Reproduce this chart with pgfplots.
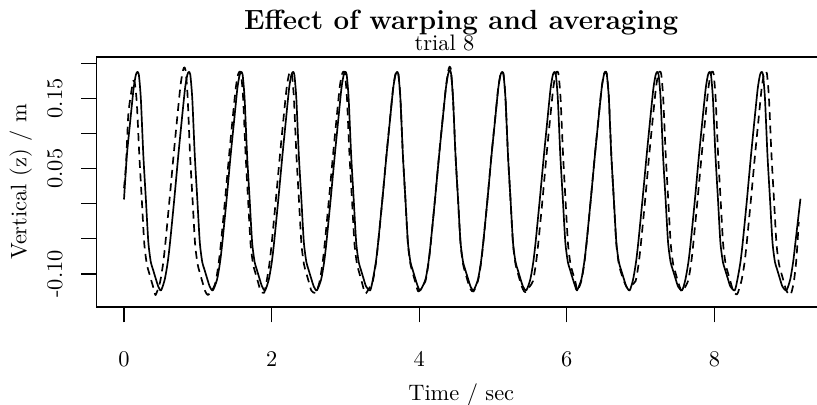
\documentclass[border=0pt]{standalone}
\usepackage{pgfplots}
\pgfplotsset{compat=1.18}
\begin{document}
\begin{tikzpicture}
\begin{axis}[
    name=ax, at={(0,0)}, anchor=south west,
    scale only axis, width=325.67pt, height=111.74pt,
    xmin=-0.3726, xmax=9.512, ymin=-0.1475, ymax=0.2089,
    axis line style={line width=0.75pt},
    tick style={line width=0.6pt, black},
    tick align=outside, major tick length=6.7pt,
    xtick pos=bottom, ytick pos=left,
    xtick={0,2,4,6,8},
    ytick={-0.10,-0.05,0,0.05,0.10,0.15,0.20},
    yticklabels={-0.10,{},{},0.05,{},0.15,{}},
    xticklabel style={anchor=base, inner sep=0pt},
    xticklabel shift=19.82pt,
    yticklabel style={rotate=90, anchor=base, inner sep=0pt},
    yticklabel shift=8.61pt,
    xlabel={Time / sec},
    xlabel style={at={(axis description cs:0.5,0)}, anchor=base, inner sep=0pt, yshift=-41.83pt},
    ylabel={Vertical (z) / m},
    ylabel style={at={(axis description cs:-0.09596,0.5)}, anchor=base, inner sep=0pt},
]
% solid: trial 8 as recorded
\addplot[black, line width=0.75pt, mark=none, line join=round, smooth, tension=0.4] coordinates {
(0.000,0.006) (0.039,0.069) (0.085,0.118) (0.130,0.164) (0.160,0.183) (0.180,0.1875)
(0.201,0.184) (0.228,0.150) (0.262,0.069) (0.296,0.007) (0.330,-0.055) (0.363,-0.083) (0.391,-0.093) (0.431,-0.107) (0.465,-0.118) (0.502,-0.1235)
(0.552,-0.108) (0.593,-0.083) (0.624,-0.055) (0.681,0.006) (0.736,0.069) (0.782,0.118) (0.827,0.164) (0.857,0.183) (0.877,0.1875)
(0.898,0.184) (0.925,0.150) (0.959,0.069) (0.993,0.007) (1.027,-0.055) (1.060,-0.083) (1.088,-0.093) (1.128,-0.107) (1.162,-0.118) (1.203,-0.1235)
(1.261,-0.108) (1.302,-0.083) (1.333,-0.055) (1.390,0.006) (1.445,0.069) (1.492,0.118) (1.536,0.164) (1.566,0.183) (1.586,0.1875)
(1.607,0.184) (1.634,0.150) (1.668,0.069) (1.702,0.007) (1.736,-0.055) (1.770,-0.083) (1.797,-0.093) (1.837,-0.107) (1.871,-0.118) (1.912,-0.1235)
(1.962,-0.108) (2.003,-0.083) (2.034,-0.055) (2.091,0.006) (2.147,0.069) (2.193,0.118) (2.237,0.164) (2.267,0.183) (2.288,0.1875)
(2.308,0.184) (2.335,0.150) (2.369,0.069) (2.403,0.007) (2.437,-0.055) (2.471,-0.083) (2.498,-0.093) (2.538,-0.107) (2.572,-0.118) (2.613,-0.1235)
(2.671,-0.108) (2.712,-0.083) (2.743,-0.055) (2.800,0.006) (2.856,0.069) (2.902,0.118) (2.946,0.164) (2.976,0.183) (2.997,0.1875)
(3.017,0.184) (3.044,0.150) (3.078,0.069) (3.112,0.007) (3.146,-0.055) (3.180,-0.083) (3.207,-0.093) (3.247,-0.107) (3.281,-0.118) (3.336,-0.1235)
(3.372,-0.108) (3.413,-0.083) (3.444,-0.055) (3.501,0.006) (3.557,0.069) (3.603,0.118) (3.647,0.164) (3.677,0.183) (3.698,0.1875)
(3.718,0.184) (3.745,0.150) (3.779,0.069) (3.813,0.007) (3.847,-0.055) (3.881,-0.083) (3.908,-0.093) (3.948,-0.107) (3.982,-0.118) (4.014,-0.1235)
(4.085,-0.108) (4.126,-0.083) (4.157,-0.055) (4.214,0.006) (4.270,0.069) (4.316,0.118) (4.361,0.164) (4.391,0.184) (4.411,0.190)
(4.431,0.186) (4.458,0.150) (4.492,0.069) (4.526,0.007) (4.560,-0.055) (4.594,-0.083) (4.621,-0.093) (4.662,-0.107) (4.696,-0.118) (4.736,-0.1235)
(4.796,-0.108) (4.837,-0.083) (4.868,-0.055) (4.925,0.006) (4.980,0.069) (5.027,0.118) (5.071,0.164) (5.101,0.183) (5.121,0.1875)
(5.142,0.184) (5.169,0.150) (5.203,0.069) (5.237,0.007) (5.271,-0.055) (5.305,-0.083) (5.332,-0.093) (5.372,-0.107) (5.406,-0.118) (5.451,-0.1235)
(5.505,-0.108) (5.546,-0.083) (5.577,-0.055) (5.634,0.006) (5.690,0.069) (5.736,0.118) (5.780,0.164) (5.810,0.183) (5.831,0.1875)
(5.851,0.184) (5.878,0.150) (5.912,0.069) (5.946,0.007) (5.980,-0.055) (6.014,-0.083) (6.041,-0.093) (6.081,-0.107) (6.115,-0.118) (6.138,-0.1235)
(6.197,-0.108) (6.237,-0.083) (6.268,-0.055) (6.325,0.006) (6.381,0.069) (6.427,0.118) (6.472,0.164) (6.502,0.183) (6.522,0.1875)
(6.542,0.184) (6.570,0.150) (6.603,0.069) (6.637,0.007) (6.671,-0.055) (6.705,-0.083) (6.732,-0.093) (6.773,-0.107) (6.807,-0.118) (6.852,-0.1235)
(6.898,-0.108) (6.938,-0.083) (6.969,-0.055) (7.026,0.006) (7.082,0.069) (7.128,0.118) (7.173,0.164) (7.203,0.183) (7.223,0.1875)
(7.243,0.184) (7.271,0.150) (7.304,0.069) (7.338,0.007) (7.372,-0.055) (7.406,-0.083) (7.433,-0.093) (7.474,-0.107) (7.508,-0.118) (7.562,-0.1235)
(7.607,-0.108) (7.648,-0.083) (7.679,-0.055) (7.736,0.006) (7.791,0.069) (7.837,0.118) (7.882,0.164) (7.912,0.183) (7.932,0.1875)
(7.953,0.184) (7.980,0.150) (8.014,0.069) (8.048,0.007) (8.081,-0.055) (8.115,-0.083) (8.142,-0.093) (8.183,-0.107) (8.217,-0.118) (8.275,-0.1235)
(8.312,-0.108) (8.353,-0.083) (8.384,-0.055) (8.441,0.006) (8.496,0.069) (8.542,0.118) (8.587,0.164) (8.617,0.183) (8.637,0.1875)
(8.658,0.184) (8.685,0.150) (8.719,0.069) (8.753,0.007) (8.787,-0.055) (8.820,-0.083) (8.848,-0.093) (8.888,-0.107) (8.922,-0.118) (8.976,-0.1235)
(9.027,-0.108) (9.067,-0.083) (9.098,-0.055) (9.166,0.007)
};
% dashed: warped and averaged
\addplot[black, line width=0.75pt, mark=none, line join=round, smooth, tension=0.4, dash pattern=on 3.5pt off 2.5pt] coordinates {
(0.000,0.022) (0.027,0.055) (0.058,0.126) (0.091,0.154) (0.118,0.171) (0.126,0.175)
(0.146,0.172) (0.174,0.143) (0.208,0.068) (0.241,0.006) (0.275,-0.057) (0.309,-0.086) (0.336,-0.097) (0.377,-0.112) (0.411,-0.124) (0.430,-0.130)
(0.488,-0.112) (0.529,-0.086) (0.560,-0.057) (0.617,0.006) (0.673,0.070) (0.719,0.120) (0.763,0.166) (0.793,0.187) (0.814,0.194)
(0.834,0.190) (0.861,0.155) (0.895,0.070) (0.929,0.006) (0.963,-0.057) (0.997,-0.086) (1.024,-0.097) (1.064,-0.112) (1.098,-0.124) (1.135,-0.130)
(1.190,-0.124) (1.241,-0.112) (1.281,-0.086) (1.313,-0.057) (1.370,0.006) (1.425,0.070) (1.471,0.120) (1.516,0.166) (1.546,0.184) (1.566,0.188)
(1.586,0.185) (1.614,0.151) (1.648,0.070) (1.681,0.006) (1.715,-0.057) (1.749,-0.086) (1.776,-0.097) (1.817,-0.112) (1.851,-0.124) (1.898,-0.127)
(1.930,-0.112) (1.970,-0.086) (2.001,-0.057) (2.058,0.006) (2.114,0.070) (2.160,0.120) (2.205,0.166) (2.235,0.184) (2.255,0.188)
(2.275,0.185) (2.302,0.151) (2.336,0.070) (2.370,0.006) (2.404,-0.057) (2.438,-0.086) (2.465,-0.097) (2.506,-0.112) (2.540,-0.124) (2.597,-0.127)
(2.648,-0.112) (2.689,-0.086) (2.720,-0.057) (2.777,0.006) (2.833,0.070) (2.879,0.120) (2.923,0.166) (2.953,0.184) (2.974,0.188)
(2.994,0.185) (3.021,0.151) (3.055,0.070) (3.089,0.006) (3.123,-0.057) (3.157,-0.086) (3.184,-0.097) (3.224,-0.112) (3.268,-0.128)
(3.318,-0.121) (3.372,-0.110) (3.413,-0.085) (3.444,-0.056) (3.501,0.006) (3.557,0.070) (3.603,0.119) (3.647,0.165) (3.677,0.184) (3.698,0.188)
(3.718,0.185) (3.745,0.151) (3.779,0.070) (3.813,0.006) (3.847,-0.057) (3.881,-0.086) (3.908,-0.097) (3.948,-0.112) (3.986,-0.125)
(4.036,-0.119) (4.085,-0.110) (4.126,-0.085) (4.157,-0.056) (4.214,0.006) (4.270,0.070) (4.316,0.119) (4.361,0.165) (4.391,0.188) (4.411,0.195)
(4.431,0.190) (4.458,0.151) (4.492,0.070) (4.526,0.006) (4.560,-0.057) (4.594,-0.086) (4.621,-0.097) (4.662,-0.112) (4.696,-0.122) (4.736,-0.125)
(4.796,-0.110) (4.837,-0.085) (4.868,-0.056) (4.925,0.006) (4.980,0.070) (5.027,0.119) (5.071,0.165) (5.101,0.184) (5.121,0.188)
(5.142,0.185) (5.169,0.151) (5.203,0.070) (5.237,0.006) (5.271,-0.057) (5.305,-0.086) (5.332,-0.097) (5.372,-0.112) (5.406,-0.122) (5.437,-0.126)
(5.490,-0.119) (5.542,-0.110) (5.582,-0.085) (5.614,-0.056) (5.671,0.006) (5.726,0.070) (5.772,0.119) (5.817,0.165) (5.847,0.184) (5.867,0.188)
(5.887,0.185) (5.915,0.151) (5.949,0.070) (5.982,0.006) (6.016,-0.057) (6.050,-0.086) (6.077,-0.097) (6.118,-0.112) (6.142,-0.124)
(6.197,-0.110) (6.237,-0.085) (6.268,-0.056) (6.325,0.006) (6.381,0.070) (6.427,0.119) (6.472,0.165) (6.502,0.184) (6.522,0.188)
(6.542,0.185) (6.570,0.151) (6.603,0.070) (6.637,0.006) (6.671,-0.057) (6.705,-0.086) (6.732,-0.097) (6.773,-0.110) (6.820,-0.120)
(6.875,-0.116) (6.933,-0.110) (6.974,-0.085) (7.005,-0.056) (7.062,0.006) (7.117,0.070) (7.163,0.119) (7.208,0.165) (7.238,0.184) (7.258,0.188)
(7.279,0.185) (7.306,0.151) (7.340,0.070) (7.374,0.006) (7.408,-0.057) (7.441,-0.086) (7.469,-0.097) (7.509,-0.112) (7.543,-0.122) (7.566,-0.125)
(7.643,-0.110) (7.684,-0.085) (7.715,-0.056) (7.772,0.006) (7.828,0.070) (7.874,0.119) (7.919,0.165) (7.949,0.184) (7.969,0.188)
(7.989,0.185) (8.016,0.151) (8.050,0.070) (8.084,0.006) (8.118,-0.057) (8.152,-0.086) (8.179,-0.097) (8.220,-0.112) (8.254,-0.124) (8.308,-0.129)
(8.366,-0.110) (8.407,-0.085) (8.438,-0.056) (8.495,0.006) (8.551,0.070) (8.597,0.119) (8.641,0.165) (8.671,0.184) (8.692,0.188)
(8.712,0.185) (8.739,0.151) (8.773,0.070) (8.807,0.006) (8.841,-0.057) (8.875,-0.086) (8.902,-0.097) (8.942,-0.112) (8.976,-0.124) (9.031,-0.130)
(9.075,-0.112) (9.110,-0.080) (9.143,-0.026)
};
\end{axis}
\node[anchor=base, inner sep=0pt, font=\fontsize{12.4}{15}\selectfont\bfseries] at ([yshift=12.4pt]ax.north) {Effect of warping and averaging};
\node[anchor=base, inner sep=0pt] at ([xshift=-7.48pt, yshift=2.8pt]ax.north) {trial 8};
\pgfresetboundingbox
\path[use as bounding box] (ax.south west) ++(-43.08pt,-43.62pt) rectangle ++(364.73pt,180.80pt);
\end{tikzpicture}
\end{document}
